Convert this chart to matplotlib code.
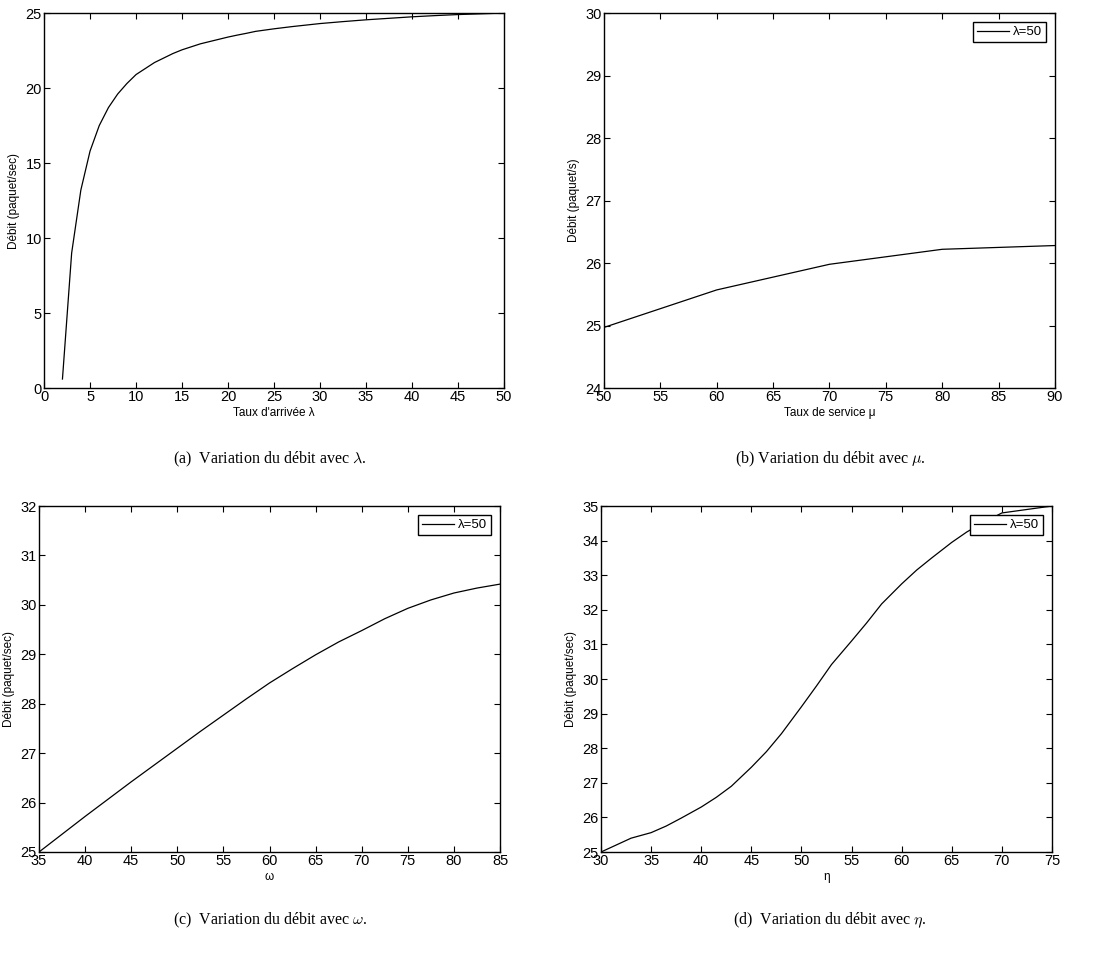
import numpy as np
import matplotlib
matplotlib.use("Agg")
import matplotlib.pyplot as plt

plt.rcParams['font.family'] = ['Liberation Sans', 'DejaVu Sans']
plt.rcParams['mathtext.fontset'] = 'cm'

# (a) debit vs lambda
lamX = [2, 3, 4, 5, 6, 7, 8, 9, 10, 11, 12, 13, 14, 15, 16, 17, 18, 19, 20, 21, 22, 23,
        25, 27, 30, 32.5, 35, 37.5, 40, 42.5, 45, 47.5, 50]
lamY = [0.6, 9.0, 13.2, 15.8, 17.5, 18.7, 19.6, 20.3, 20.9, 21.3, 21.7, 22.0, 22.3, 22.55,
        22.75, 22.95, 23.1, 23.25, 23.4, 23.53, 23.65, 23.78, 23.95, 24.1, 24.3, 24.43,
        24.55, 24.65, 24.75, 24.83, 24.9, 24.95, 25.0]

# (b) debit vs mu
muX = [50, 60, 70, 80, 90]
muY = [24.97, 25.57, 25.98, 26.22, 26.28]

# (c) debit vs omega
omX = [35, 37.5, 40, 42.5, 45, 47.5, 50, 52.5, 55, 57.5, 60, 62.5, 65, 67.5, 70, 72.5,
       75, 77.5, 80, 82.5, 85]
omY = [25.0, 25.36, 25.72, 26.07, 26.42, 26.76, 27.1, 27.44, 27.77, 28.1, 28.42, 28.71,
       28.99, 29.25, 29.48, 29.72, 29.93, 30.1, 30.24, 30.34, 30.42]

# (d) debit vs eta
etaX = [30, 31.5, 33, 35, 36.5, 38, 40, 41.5, 43, 45, 46.5, 48, 50, 51.5, 53, 55, 56.5,
        58, 60, 61.5, 63, 65, 66.5, 68, 70, 75]
etaY = [25.0, 25.2, 25.4, 25.56, 25.75, 25.98, 26.3, 26.58, 26.9, 27.45, 27.9, 28.42,
        29.2, 29.8, 30.42, 31.1, 31.62, 32.17, 32.75, 33.15, 33.5, 33.95, 34.25, 34.5,
        34.8, 35.0]


def styleAxes(ax, xlim, ylim, xticks, yticks, xlabel, ylabel):
    ax.set_xlim(xlim)
    ax.set_ylim(ylim)
    ax.set_xticks(xticks)
    ax.set_yticks(yticks)
    ax.tick_params(direction='in', top=True, right=True, labelsize=10.5, length=4, width=0.8, pad=1.5)
    for s in ax.spines.values():
        s.set_linewidth(1.0)
    ax.set_xlabel(xlabel, fontsize=8.5, labelpad=2)
    ax.set_ylabel(ylabel, fontsize=8.5, labelpad=4)


def addLegend(ax):
    leg = ax.legend(loc='upper right', fontsize=9.5, fancybox=False, framealpha=1,
                    edgecolor='black', handlelength=2.4, borderpad=0.3, handletextpad=0.3,
                    borderaxespad=0.7)
    leg.get_frame().set_linewidth(1.0)


fig = plt.figure(figsize=(10.93, 9.6), dpi=100)

ax1 = fig.add_axes([0.0403, 0.5958, 0.4209, 0.3906])
ax1.plot(lamX, lamY, '-', color='black', lw=0.9)
styleAxes(ax1, (0, 50), (0, 25), range(0, 51, 5), range(0, 26, 5),
          "Taux d'arrivée λ", "Débit (paquet/sec)")

ax2 = fig.add_axes([0.5526, 0.5958, 0.4126, 0.3906])
ax2.plot(muX, muY, '-', color='black', lw=0.9, label='λ=50')
styleAxes(ax2, (50, 90), (24, 30), range(50, 91, 5), range(24, 31, 1),
          "Taux de service μ", "Débit (paquet/s)")
addLegend(ax2)

ax3 = fig.add_axes([0.0357, 0.1125, 0.4218, 0.3604])
ax3.plot(omX, omY, '-', color='black', lw=0.9, label='λ=50')
styleAxes(ax3, (35, 85), (25, 32), range(35, 86, 5), range(25, 33, 1),
          "ω", "Débit (paquet/sec)")
addLegend(ax3)

ax4 = fig.add_axes([0.5499, 0.1125, 0.4126, 0.3604])
ax4.plot(etaX, etaY, '-', color='black', lw=0.9, label='λ=50')
styleAxes(ax4, (30, 75), (25, 35), range(30, 76, 5), range(25, 36, 1),
          "η", "Débit (paquet/sec)")
addLegend(ax4)

capKw = dict(ha='center', va='center', fontsize=11.5, family=['Liberation Serif', 'DejaVu Serif'])
fig.text(270 / 1093, 1 - 459 / 960, r"(a)  Variation du débit avec $\lambda$.", **capKw)
fig.text(830 / 1093, 1 - 459 / 960, r"(b) Variation du débit avec $\mu$.", **capKw)
fig.text(270 / 1093, 1 - 920 / 960, r"(c)  Variation du débit avec $\omega$.", **capKw)
fig.text(830 / 1093, 1 - 920 / 960, r"(d)  Variation du débit avec $\eta$.", **capKw)

fig.savefig("out.png", dpi=100)
plt.close(fig)
